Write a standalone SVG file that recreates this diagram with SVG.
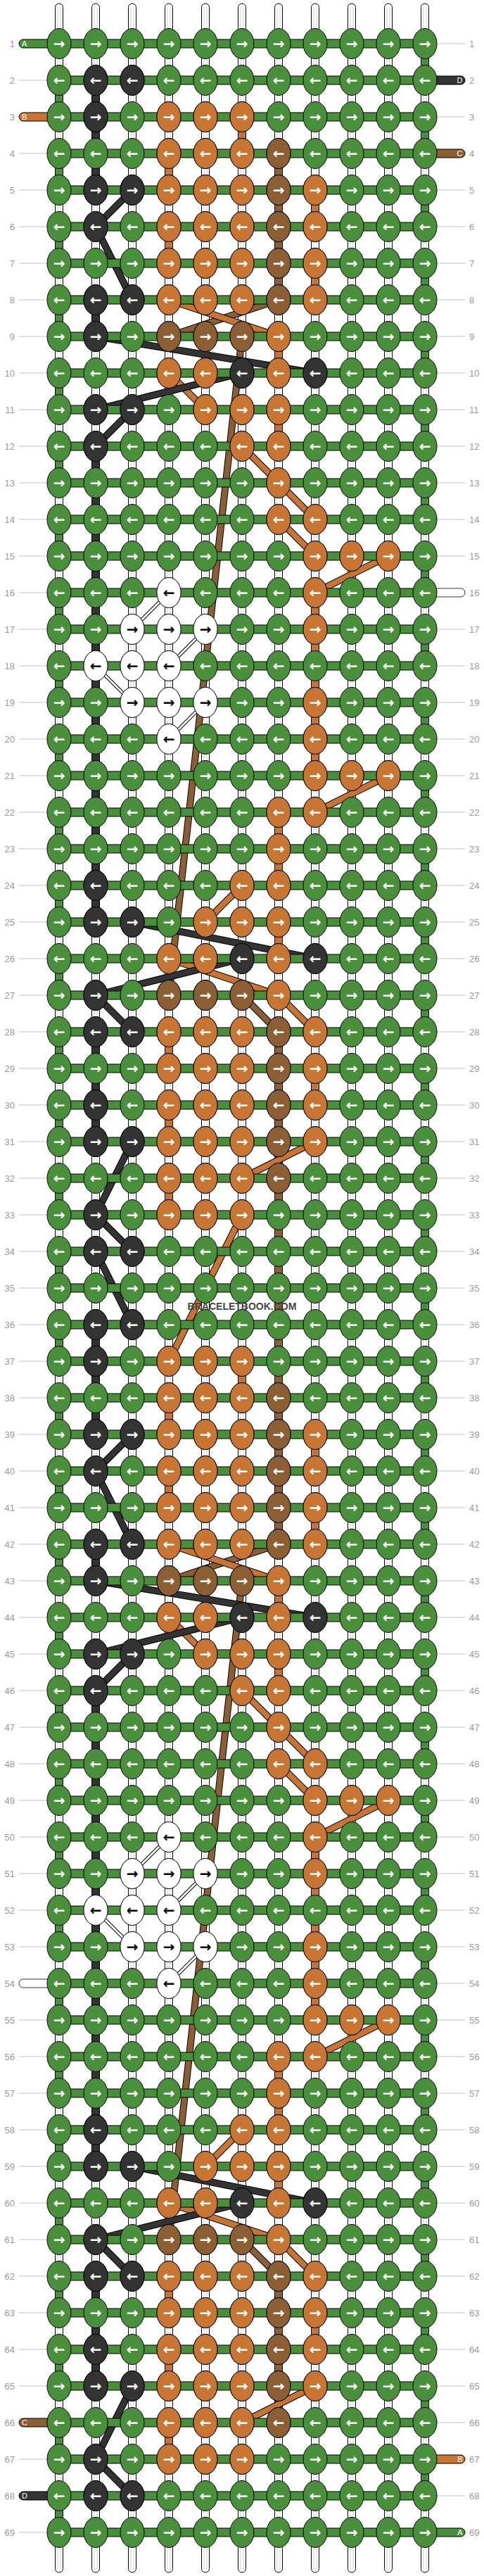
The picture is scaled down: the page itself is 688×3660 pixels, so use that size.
<svg xmlns="http://www.w3.org/2000/svg" xmlns:xlink="http://www.w3.org/1999/xlink" width="688" height="3660" viewBox="0 0 688 3660">
<style>
.g{fill:#4a8f3c;stroke:#000;stroke-width:1}
.k{fill:#333;stroke:#000;stroke-width:1}
.o{fill:#c87533;stroke:#000;stroke-width:1}
.b{fill:#8b5e34;stroke:#000;stroke-width:1}
.w{fill:#fff;stroke:#000;stroke-width:.8}
.tu{fill:#fff;stroke:#000;stroke-width:1}
.a{font-family:"DejaVu Sans",sans-serif;font-size:20px;font-weight:bold;fill:#fff;text-anchor:middle}
.ab{font-family:"DejaVu Sans",sans-serif;font-size:20px;font-weight:bold;fill:#000;text-anchor:middle}
.cx{stroke:#000;stroke-width:10;fill:none}
.ck{stroke:#333;stroke-width:8;fill:none}
.co{stroke:#c87533;stroke-width:8;fill:none}
.cb{stroke:#8b5e34;stroke-width:8;fill:none}
.wx{stroke:#000;stroke-width:5;fill:none}
.ww{stroke:#fff;stroke-width:3;fill:none}
.n{font-family:"Liberation Sans",Arial,sans-serif;font-size:13px;fill:#999}
.tt{font-family:"Liberation Sans",Arial,sans-serif;font-size:11px;fill:#fff}
.wm{font-family:"Liberation Sans",Arial,sans-serif;font-size:14px;font-weight:bold;fill:#444;text-anchor:middle}
</style>
<defs>
<g id="gR"><ellipse class="g" rx="17" ry="21.5"/><text class="a" y="6.5">→</text></g>
<g id="gL"><ellipse class="g" rx="17" ry="21.5"/><text class="a" y="6.5">←</text></g>
<g id="kR"><ellipse class="k" rx="17" ry="21.5"/><text class="a" y="6.5">→</text></g>
<g id="kL"><ellipse class="k" rx="17" ry="21.5"/><text class="a" y="6.5">←</text></g>
<g id="oR"><ellipse class="o" rx="17" ry="21.5"/><text class="a" y="6.5">→</text></g>
<g id="oL"><ellipse class="o" rx="17" ry="21.5"/><text class="a" y="6.5">←</text></g>
<g id="bR"><ellipse class="b" rx="17" ry="21.5"/><text class="a" y="6.5">→</text></g>
<g id="bL"><ellipse class="b" rx="17" ry="21.5"/><text class="a" y="6.5">←</text></g>
<g id="wR"><ellipse class="w" rx="17" ry="21.5"/><text class="ab" y="6.5">→</text></g>
<g id="wL"><ellipse class="w" rx="17" ry="21.5"/><text class="ab" y="6.5">←</text></g>
<g id="RE"><rect class="g" x="84" y="-6" width="520" height="12"/><use href="#gR" x="84"/><use href="#gR" x="136"/><use href="#gR" x="188"/><use href="#gR" x="240"/><use href="#gR" x="292"/><use href="#gR" x="344"/><use href="#gR" x="396"/><use href="#gR" x="448"/><use href="#gR" x="500"/><use href="#gR" x="552"/><use href="#gR" x="604"/></g>
<g id="RR"><rect class="g" x="598.5" y="16" width="11" height="20"/><use href="#RE"/></g>
<g id="RL"><rect class="g" x="78.5" y="16" width="11" height="20"/><rect class="g" x="84" y="-6" width="520" height="12"/><use href="#gL" x="84"/><use href="#gL" x="136"/><use href="#gL" x="188"/><use href="#gL" x="240"/><use href="#gL" x="292"/><use href="#gL" x="344"/><use href="#gL" x="396"/><use href="#gL" x="448"/><use href="#gL" x="500"/><use href="#gL" x="552"/><use href="#gL" x="604"/></g>
<g id="P2"><use href="#RL"/><use href="#kL" x="136"/><use href="#kL" x="188"/></g>
<g id="P3"><use href="#RR"/><use href="#kR" x="136"/><use href="#oR" x="240"/><use href="#oR" x="292"/><use href="#oR" x="344"/></g>
<g id="P4"><use href="#RL"/><use href="#oL" x="240"/><use href="#oL" x="292"/><use href="#oL" x="344"/><use href="#bL" x="396"/></g>
<g id="P5"><use href="#RR"/><use href="#kR" x="136"/><use href="#kR" x="188"/><use href="#oR" x="240"/><use href="#oR" x="292"/><use href="#oR" x="344"/><use href="#bR" x="396"/><use href="#oR" x="448"/></g>
<g id="P6"><use href="#RL"/><use href="#kL" x="136"/><use href="#oL" x="240"/><use href="#oL" x="292"/><use href="#oL" x="344"/><use href="#bL" x="396"/><use href="#oL" x="448"/></g>
<g id="P7"><use href="#RR"/><use href="#oR" x="240"/><use href="#oR" x="292"/><use href="#oR" x="344"/><use href="#bR" x="396"/><use href="#oR" x="448"/></g>
<g id="P8"><use href="#RL"/><use href="#kL" x="136"/><use href="#kL" x="188"/><use href="#oL" x="240"/><use href="#oL" x="292"/><use href="#oL" x="344"/><use href="#bL" x="396"/><use href="#oL" x="448"/></g>
<g id="P9"><use href="#RR"/><use href="#kR" x="136"/><use href="#bR" x="240"/><use href="#bR" x="292"/><use href="#bR" x="344"/><use href="#oR" x="396"/></g>
<g id="P10"><use href="#RL"/><use href="#oL" x="240"/><use href="#oL" x="292"/><use href="#kL" x="344"/><use href="#oL" x="396"/><use href="#kL" x="448"/></g>
<g id="P11"><use href="#RR"/><use href="#kR" x="136"/><use href="#kR" x="188"/><use href="#oR" x="292"/><use href="#oR" x="344"/><use href="#oR" x="396"/></g>
<g id="P12"><use href="#RL"/><use href="#kL" x="136"/><use href="#oL" x="344"/><use href="#oL" x="396"/></g>
<g id="P13"><use href="#RR"/><use href="#oR" x="396"/></g>
<g id="P14"><use href="#RL"/><use href="#oL" x="396"/><use href="#oL" x="448"/></g>
<g id="P15"><use href="#RR"/><use href="#oR" x="448"/><use href="#oR" x="500"/><use href="#oR" x="552"/></g>
<g id="P16"><use href="#RL"/><use href="#wL" x="240"/><use href="#oL" x="448"/></g>
<g id="P17"><use href="#RR"/><use href="#wR" x="188"/><use href="#wR" x="240"/><use href="#wR" x="292"/><use href="#oR" x="448"/></g>
<g id="P18"><use href="#RL"/><use href="#wL" x="136"/><use href="#wL" x="188"/><use href="#wL" x="240"/></g>
<path id="pB" d="M396 426L240 478M344 478L240 1414M344 1414L396 1466M396 2194L240 2246M344 2246L240 3182M344 3182L396 3234"/>
<path id="pO" d="M240 426L396 478M240 530L292 582M344 634L396 686M396 686L448 738M396 738L448 790M552 790L448 842M552 1102L448 1154M344 1258L292 1310M240 1362L396 1414M396 1414L448 1466M448 1622L344 1674M344 1726L240 1934M240 2194L396 2246M240 2298L292 2350M344 2402L396 2454M396 2454L448 2506M396 2506L448 2558M552 2558L448 2610M552 2870L448 2922M344 3026L292 3078M240 3130L396 3182M396 3182L448 3234M448 3390L344 3442"/>
<path id="pK" d="M188 270L136 322M136 322L188 426M136 478L448 530M344 530L136 582M188 582L136 634M188 1310L448 1362M344 1362L136 1414M136 1414L188 1466M188 1622L136 1726M136 1726L188 1778M136 1778L188 1882M188 2038L136 2090M136 2090L188 2194M136 2246L448 2298M344 2298L136 2350M188 2350L136 2402M188 3078L448 3130M344 3130L136 3182M136 3182L188 3234M188 3390L136 3494M136 3494L188 3546"/>
<path id="pW" d="M240 842L188 894M292 894L240 946M136 946L188 998M292 998L240 1050M240 2610L188 2662M292 2662L240 2714M136 2714L188 2766M292 2766L240 2818"/>
<g id="lab"><text y="66.5">1</text><text y="118.5">2</text><text y="170.5">3</text><text y="222.5">4</text><text y="274.5">5</text><text y="326.5">6</text><text y="378.5">7</text><text y="430.5">8</text><text y="482.5">9</text><text y="534.5">10</text><text y="586.5">11</text><text y="638.5">12</text><text y="690.5">13</text><text y="742.5">14</text><text y="794.5">15</text><text y="846.5">16</text><text y="898.5">17</text><text y="950.5">18</text><text y="1002.5">19</text><text y="1054.5">20</text><text y="1106.5">21</text><text y="1158.5">22</text><text y="1210.5">23</text><text y="1262.5">24</text><text y="1314.5">25</text><text y="1366.5">26</text><text y="1418.5">27</text><text y="1470.5">28</text><text y="1522.5">29</text><text y="1574.5">30</text><text y="1626.5">31</text><text y="1678.5">32</text><text y="1730.5">33</text><text y="1782.5">34</text><text y="1834.5">35</text><text y="1886.5">36</text><text y="1938.5">37</text><text y="1990.5">38</text><text y="2042.5">39</text><text y="2094.5">40</text><text y="2146.5">41</text><text y="2198.5">42</text><text y="2250.5">43</text><text y="2302.5">44</text><text y="2354.5">45</text><text y="2406.5">46</text><text y="2458.5">47</text><text y="2510.5">48</text><text y="2562.5">49</text><text y="2614.5">50</text><text y="2666.5">51</text><text y="2718.5">52</text><text y="2770.5">53</text><text y="2822.5">54</text><text y="2874.5">55</text><text y="2926.5">56</text><text y="2978.5">57</text><text y="3030.5">58</text><text y="3082.5">59</text><text y="3134.5">60</text><text y="3186.5">61</text><text y="3238.5">62</text><text y="3290.5">63</text><text y="3342.5">64</text><text y="3394.5">65</text><text y="3446.5">66</text><text y="3498.5">67</text><text y="3550.5">68</text><text y="3602.5">69</text></g>
</defs>
<rect width="688" height="3660" fill="#fff"/>
<g id="guides" stroke="#c4c4c4" stroke-width="40" stroke-dasharray="1 51">
<line x1="47" y1="61.5" x2="47" y2="3600"/>
<line x1="641" y1="61.5" x2="641" y2="3600"/>
</g>
<g id="tubes">
<rect class="tu" x="78.5" y="5" width="11" height="3650" rx="5.5"/><rect class="tu" x="130.5" y="5" width="11" height="3650" rx="5.5"/><rect class="tu" x="182.5" y="5" width="11" height="3650" rx="5.5"/><rect class="tu" x="234.5" y="5" width="11" height="3650" rx="5.5"/><rect class="tu" x="286.5" y="5" width="11" height="3650" rx="5.5"/><rect class="tu" x="338.5" y="5" width="11" height="3650" rx="5.5"/><rect class="tu" x="390.5" y="5" width="11" height="3650" rx="5.5"/><rect class="tu" x="442.5" y="5" width="11" height="3650" rx="5.5"/><rect class="tu" x="494.5" y="5" width="11" height="3650" rx="5.5"/><rect class="tu" x="546.5" y="5" width="11" height="3650" rx="5.5"/><rect class="tu" x="598.5" y="5" width="11" height="3650" rx="5.5"/>
<path stroke="#cfcfcf" stroke-width="1" fill="none" d="M82 10V3650M86 10V3650M134 10V3650M138 10V3650M186 10V3650M190 10V3650M238 10V3650M242 10V3650M290 10V3650M294 10V3650M342 10V3650M346 10V3650M394 10V3650M398 10V3650M446 10V3650M450 10V3650M498 10V3650M502 10V3650M550 10V3650M554 10V3650M602 10V3650M606 10V3650"/>
</g>
<g id="segments">
<rect class="k" x="130.5" y="130" width="11" height="124"/><rect class="k" x="130.5" y="442" width="11" height="20"/><rect class="k" x="130.5" y="650" width="11" height="644"/><rect class="k" x="130.5" y="1482" width="11" height="124"/><rect class="k" x="130.5" y="1898" width="11" height="124"/><rect class="k" x="130.5" y="2210" width="11" height="20"/><rect class="k" x="130.5" y="2418" width="11" height="644"/><rect class="k" x="130.5" y="3250" width="11" height="124"/>
<rect class="b" x="390.5" y="234" width="11" height="176"/><rect class="b" x="390.5" y="1482" width="11" height="696"/><rect class="b" x="390.5" y="3250" width="11" height="176"/>
<rect class="o" x="338.5" y="182" width="11" height="20"/><rect class="o" x="234.5" y="234" width="11" height="20"/><rect class="o" x="442.5" y="286" width="11" height="20"/><rect class="o" x="234.5" y="338" width="11" height="20"/><rect class="o" x="442.5" y="390" width="11" height="20"/><rect class="o" x="390.5" y="494" width="11" height="20"/><rect class="o" x="390.5" y="598" width="11" height="20"/><rect class="o" x="442.5" y="858" width="11" height="228"/><rect class="o" x="390.5" y="1170" width="11" height="72"/><rect class="o" x="390.5" y="1326" width="11" height="20"/><rect class="o" x="234.5" y="1482" width="11" height="20"/><rect class="o" x="442.5" y="1534" width="11" height="20"/><rect class="o" x="234.5" y="1586" width="11" height="20"/><rect class="o" x="234.5" y="1690" width="11" height="20"/>
<rect class="o" x="338.5" y="1950" width="11" height="20"/><rect class="o" x="234.5" y="2002" width="11" height="20"/><rect class="o" x="442.5" y="2054" width="11" height="20"/><rect class="o" x="234.5" y="2106" width="11" height="20"/><rect class="o" x="442.5" y="2158" width="11" height="20"/><rect class="o" x="390.5" y="2262" width="11" height="20"/><rect class="o" x="390.5" y="2366" width="11" height="20"/><rect class="o" x="442.5" y="2626" width="11" height="228"/><rect class="o" x="390.5" y="2938" width="11" height="72"/><rect class="o" x="390.5" y="3094" width="11" height="20"/><rect class="o" x="234.5" y="3250" width="11" height="20"/><rect class="o" x="442.5" y="3302" width="11" height="20"/><rect class="o" x="234.5" y="3354" width="11" height="20"/><rect class="o" x="234.5" y="3458" width="11" height="20"/>
</g>
<g id="connectors">
<use href="#pB" class="cx"/><use href="#pB" class="cb"/>
<use href="#pO" class="cx"/><use href="#pO" class="co"/>
<use href="#pK" class="cx"/><use href="#pK" class="ck"/>
<use href="#pW" class="wx"/><use href="#pW" class="ww"/>
</g>
<g id="tails">
<rect class="g" x="27" y="56" width="62" height="12" rx="6"/><text class="tt" x="31" y="66">A</text>
<rect class="o" x="27" y="160" width="62" height="12" rx="6"/><text class="tt" x="31" y="170">B</text>
<rect class="w" x="27" y="2812" width="62" height="12" rx="6"/>
<rect class="b" x="27" y="3436" width="62" height="12" rx="6"/><text class="tt" x="31" y="3446">C</text>
<rect class="k" x="27" y="3540" width="62" height="12" rx="6"/><text class="tt" x="31" y="3550">D</text>
<rect class="k" x="599" y="108" width="62" height="12" rx="6"/><text class="tt" x="657.5" y="118" text-anchor="end">D</text>
<rect class="b" x="599" y="212" width="62" height="12" rx="6"/><text class="tt" x="657.5" y="222" text-anchor="end">C</text>
<rect class="w" x="599" y="836" width="62" height="12" rx="6"/>
<rect class="o" x="599" y="3488" width="62" height="12" rx="6"/><text class="tt" x="657.5" y="3498" text-anchor="end">B</text>
<rect class="g" x="599" y="3592" width="62" height="12" rx="6"/><text class="tt" x="657.5" y="3602" text-anchor="end">A</text>
</g>
<g id="rows">
<use id="row1" href="#RR" y="62"/><use id="row2" href="#P2" y="114"/><use id="row3" href="#P3" y="166"/><use id="row4" href="#P4" y="218"/><use id="row5" href="#P5" y="270"/><use id="row6" href="#P6" y="322"/><use id="row7" href="#P7" y="374"/><use id="row8" href="#P8" y="426"/><use id="row9" href="#P9" y="478"/><use id="row10" href="#P10" y="530"/><use id="row11" href="#P11" y="582"/><use id="row12" href="#P12" y="634"/><use id="row13" href="#P13" y="686"/><use id="row14" href="#P14" y="738"/><use id="row15" href="#P15" y="790"/><use id="row16" href="#P16" y="842"/><use id="row17" href="#P17" y="894"/><use id="row18" href="#P18" y="946"/><use id="row19" href="#P17" y="998"/><use id="row20" href="#P16" y="1050"/><use id="row21" href="#P15" y="1102"/><use id="row22" href="#P14" y="1154"/><use id="row23" href="#P13" y="1206"/><use id="row24" href="#P12" y="1258"/><use id="row25" href="#P11" y="1310"/><use id="row26" href="#P10" y="1362"/><use id="row27" href="#P9" y="1414"/><use id="row28" href="#P8" y="1466"/><use id="row29" href="#P7" y="1518"/><use id="row30" href="#P6" y="1570"/><use id="row31" href="#P5" y="1622"/><use id="row32" href="#P4" y="1674"/><use id="row33" href="#P3" y="1726"/><use id="row34" href="#P2" y="1778"/><use id="row35" href="#RR" y="1830"/>
<use id="row36" href="#P2" y="1882"/><use id="row37" href="#P3" y="1934"/><use id="row38" href="#P4" y="1986"/><use id="row39" href="#P5" y="2038"/><use id="row40" href="#P6" y="2090"/><use id="row41" href="#P7" y="2142"/><use id="row42" href="#P8" y="2194"/><use id="row43" href="#P9" y="2246"/><use id="row44" href="#P10" y="2298"/><use id="row45" href="#P11" y="2350"/><use id="row46" href="#P12" y="2402"/><use id="row47" href="#P13" y="2454"/><use id="row48" href="#P14" y="2506"/><use id="row49" href="#P15" y="2558"/><use id="row50" href="#P16" y="2610"/><use id="row51" href="#P17" y="2662"/><use id="row52" href="#P18" y="2714"/><use id="row53" href="#P17" y="2766"/><use id="row54" href="#P16" y="2818"/><use id="row55" href="#P15" y="2870"/><use id="row56" href="#P14" y="2922"/><use id="row57" href="#P13" y="2974"/><use id="row58" href="#P12" y="3026"/><use id="row59" href="#P11" y="3078"/><use id="row60" href="#P10" y="3130"/><use id="row61" href="#P9" y="3182"/><use id="row62" href="#P8" y="3234"/><use id="row63" href="#P7" y="3286"/><use id="row64" href="#P6" y="3338"/><use id="row65" href="#P5" y="3390"/><use id="row66" href="#P4" y="3442"/><use id="row67" href="#P3" y="3494"/><use id="row68" href="#P2" y="3546"/><use id="row69" href="#RE" y="3598"/>
</g>
<g id="labels" class="n">
<use href="#lab" x="21" style="text-anchor:end"/>
<use href="#lab" x="667" style="text-anchor:start"/>
</g>
<text class="wm" x="344" y="1861">BRACELETBOOK.COM</text>
</svg>
